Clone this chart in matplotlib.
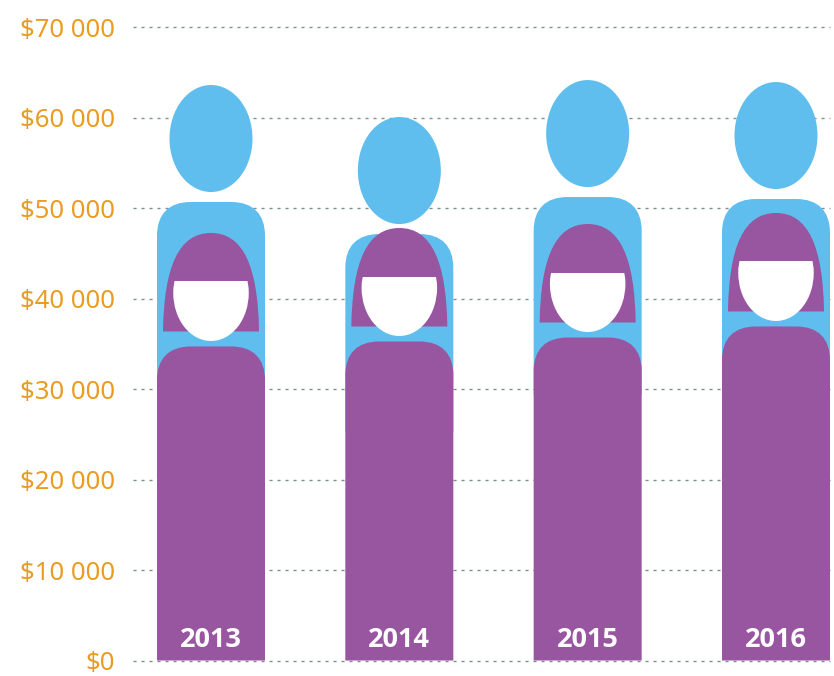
import matplotlib

matplotlib.use("Agg")
import matplotlib.pyplot as plt
from matplotlib.patches import Ellipse, PathPatch, Rectangle
from matplotlib.path import Path

years = ["2013", "2014", "2015", "2016"]
men_values = [63590, 60050, 64140, 63920]  # top of the man's head
women_values = [47240, 47790, 48230, 49450]  # top of the woman's hair
y_ticks = [0, 10000, 20000, 30000, 40000, 50000, 60000, 70000]
y_tick_labels = ["$0", "$10 000", "$20 000", "$30 000", "$40 000", "$50 000", "$60 000", "$70 000"]

BLUE = "#5FBEED"
PURPLE = "#9855A0"
ORANGE = "#E99C21"
GRID = "#7F8F91"

# size of one pixel in data units
PX = 1 / 188.33
PY = 10000 / 90.5


def rounded_body(x, top, bottom, color, zorder):
    """Body with rounded shoulders, flat at the bottom."""
    half = 54 * PX
    rx = 34 * PX
    ry = 34 * PY
    k = 0.65
    verts = [
        (x - half, bottom),
        (x - half, top - ry),
        (x - half, top - ry + k * ry),
        (x - half + rx - k * rx, top),
        (x - half + rx, top),
        (x + half - rx, top),
        (x + half - rx + k * rx, top),
        (x + half, top - ry + k * ry),
        (x + half, top - ry),
        (x + half, bottom),
        (x - half, bottom),
    ]
    codes = [Path.MOVETO, Path.LINETO, Path.CURVE4, Path.CURVE4, Path.CURVE4, Path.LINETO,
             Path.CURVE4, Path.CURVE4, Path.CURVE4, Path.LINETO, Path.CLOSEPOLY]
    return PathPatch(Path(verts, codes), facecolor=color, edgecolor="none", zorder=zorder)


def draw_man(ax, x, value):
    head = Ellipse((x, value - 53.5 * PY), 83 * PX, 107 * PY, facecolor=BLUE, edgecolor="none", zorder=2)
    ax.add_patch(head)
    ax.add_patch(rounded_body(x, value - 117 * PY, value - 315 * PY, BLUE, 2))


def draw_woman(ax, x, value):
    half = 48 * PX
    bottom = value - 98.5 * PY
    verts = [
        (x - half, bottom),
        (x - 47 * PX, value - 33 * PY),
        (x - 32 * PX, value),
        (x, value),
        (x + 32 * PX, value),
        (x + 47 * PX, value - 33 * PY),
        (x + half, bottom),
        (x - half, bottom),
    ]
    codes = [Path.MOVETO, Path.CURVE4, Path.CURVE4, Path.CURVE4, Path.CURVE4, Path.CURVE4, Path.CURVE4,
             Path.CLOSEPOLY]
    ax.add_patch(PathPatch(Path(verts, codes), facecolor=PURPLE, edgecolor="none", zorder=3))

    face = Ellipse((x, value - 60 * PY), 75.5 * PX, 96 * PY, facecolor="white", edgecolor="none", zorder=4)
    ax.add_patch(face)
    # fringe cuts the top of the face off flat
    clip = Rectangle((x - half, value - 120 * PY), 2 * half, 71.5 * PY, transform=ax.transData)
    face.set_clip_path(clip)

    ax.add_patch(rounded_body(x, value - 113.5 * PY, 0, PURPLE, 5))


fig = plt.figure(figsize=(8.34, 6.76), dpi=100)
ax = fig.add_axes([133 / 834, 15.5 / 676, (830 - 133) / 834, (660.5 - 27) / 676])

for i, year in enumerate(years):
    draw_man(ax, i, men_values[i])
    draw_woman(ax, i, women_values[i])
    ax.text(i, 2300, year, color="white", fontsize=19.5, fontweight="bold", family="Open Sans",
            ha="center", va="center", zorder=6)

ax.set_xlim((133 - 211) * PX, (830 - 211) * PX)
ax.set_ylim(0, 70000)
ax.set_xticks([])
ax.set_yticks(y_ticks)
ax.set_yticklabels(y_tick_labels, color=ORANGE, fontsize=18.5, family="Noto Sans")
ax.tick_params(axis="y", length=0, pad=13)
ax.grid(axis="y", color=GRID, linewidth=1, linestyle=(0, (2.2, 3.56)), zorder=1)
ax.set_axisbelow(True)
for gridline in ax.get_ygridlines():
    gridline.set_clip_on(False)
for label in ax.get_yticklabels():
    label.set_y(label.get_position()[1])
for spine in ax.spines.values():
    spine.set_visible(False)

fig.savefig("out.png", dpi=100)
